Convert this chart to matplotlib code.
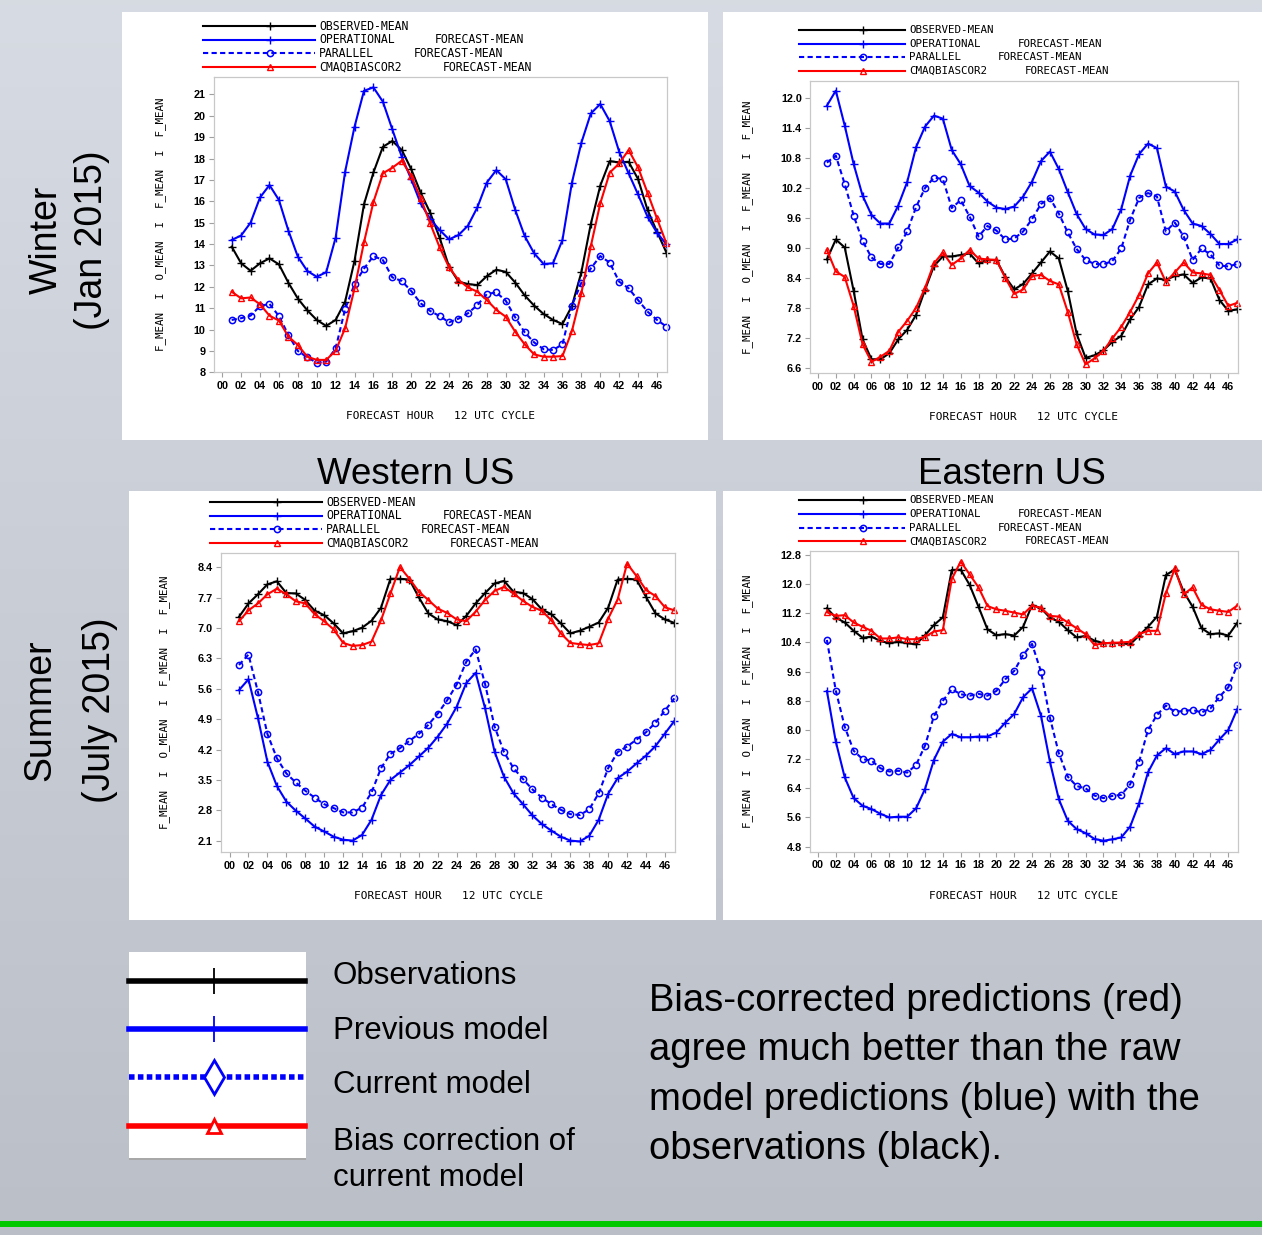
import numpy as np
import matplotlib.pyplot as plt
from matplotlib.lines import Line2D
from matplotlib.patches import Rectangle

# forecast hours 01..47
hours = np.arange(1, 48)
xtick_pos = np.arange(0, 47, 2)
xtick_labels = ['%02d' % h for h in xtick_pos]

# ---- Winter (Jan 2015), Western US
ww_obs = [13.88, 13.1, 12.75, 13.1, 13.33, 13.05, 12.19, 11.45, 10.9, 10.45, 10.17, 10.45, 11.3, 13.22,
          15.86, 17.35, 18.55, 18.82, 18.4, 17.5, 16.4, 15.47, 14.3, 12.94, 12.24, 12.13, 12.08, 12.5,
          12.8, 12.7, 12.2, 11.6, 11.12, 10.73, 10.45, 10.26, 11.1, 12.68, 14.94, 16.73, 17.88, 17.82,
          17.85, 17.04, 15.6, 14.58, 13.6]
ww_oper = [14.19, 14.4, 15.0, 16.18, 16.76, 16.06, 14.63, 13.41, 12.74, 12.47, 12.68, 14.3, 17.38, 19.49,
           21.17, 21.33, 20.66, 19.36, 18.08, 17.03, 15.9, 15.17, 14.66, 14.22, 14.42, 14.86, 15.72, 16.88,
           17.46, 17.03, 15.6, 14.38, 13.57, 13.07, 13.1, 14.19, 16.87, 18.74, 20.11, 20.55, 19.75, 18.32,
           17.31, 16.32, 15.28, 14.53, 13.99]
ww_par = [10.45, 10.53, 10.65, 11.1, 11.2, 10.63, 9.75, 9.0, 8.7, 8.45, 8.5, 9.12, 10.95, 12.13,
          12.85, 13.44, 13.25, 12.44, 12.27, 11.8, 11.23, 10.87, 10.63, 10.34, 10.51, 10.76, 11.15, 11.66,
          11.74, 11.35, 10.57, 9.87, 9.4, 9.08, 9.04, 9.31, 11.12, 12.19, 12.86, 13.44, 13.13, 12.24,
          11.93, 11.38, 10.84, 10.45, 10.14]
ww_bias = [11.77, 11.46, 11.5, 11.18, 10.65, 10.42, 9.67, 9.28, 8.73, 8.58, 8.58, 9.01, 10.06, 11.93,
           14.08, 15.97, 17.31, 17.57, 17.9, 17.18, 16.14, 14.97, 13.85, 12.91, 12.32, 11.97, 11.77, 11.38,
           10.92, 10.6, 9.9, 9.31, 8.84, 8.73, 8.73, 8.76, 9.93, 11.7, 13.9, 15.9, 17.34, 17.77,
           18.4, 17.59, 16.4, 15.2, 14.03]
ww_yticks = [8, 9, 10, 11, 12, 13, 14, 15, 16, 17, 18, 19, 20, 21]

# ---- Winter (Jan 2015), Eastern US
we_obs = [8.77, 9.17, 9.01, 8.14, 7.17, 6.77, 6.77, 6.89, 7.17, 7.36, 7.66, 8.16, 8.64, 8.83,
          8.83, 8.86, 8.89, 8.69, 8.76, 8.76, 8.42, 8.17, 8.28, 8.49, 8.71, 8.93, 8.79, 8.14,
          7.28, 6.8, 6.85, 6.95, 7.12, 7.24, 7.57, 7.82, 8.27, 8.39, 8.36, 8.44, 8.47, 8.3,
          8.41, 8.39, 7.96, 7.74, 7.77]
we_oper = [11.85, 12.15, 11.45, 10.68, 10.05, 9.66, 9.49, 9.49, 9.85, 10.32, 11.02, 11.43, 11.65, 11.59,
           10.96, 10.68, 10.24, 10.11, 9.93, 9.81, 9.78, 9.83, 10.03, 10.33, 10.74, 10.93, 10.58, 10.12,
           9.68, 9.38, 9.27, 9.26, 9.38, 9.78, 10.45, 10.88, 11.09, 11.0, 10.23, 10.13, 9.76, 9.49,
           9.44, 9.28, 9.08, 9.08, 9.17]
we_par = [10.71, 10.85, 10.28, 9.65, 9.14, 8.81, 8.68, 8.68, 9.01, 9.33, 9.82, 10.2, 10.41, 10.38,
          9.8, 9.96, 9.63, 9.23, 9.44, 9.35, 9.17, 9.19, 9.33, 9.58, 9.88, 10.0, 9.69, 9.31,
          8.98, 8.76, 8.68, 8.67, 8.74, 8.99, 9.57, 10.0, 10.1, 10.03, 9.33, 9.51, 9.23, 8.76,
          8.99, 8.87, 8.65, 8.63, 8.68]
we_bias = [8.96, 8.53, 8.42, 7.84, 7.07, 6.72, 6.82, 6.94, 7.32, 7.54, 7.8, 8.2, 8.69, 8.91,
           8.66, 8.79, 8.96, 8.79, 8.77, 8.76, 8.4, 8.08, 8.17, 8.44, 8.46, 8.34, 8.27, 7.72,
           7.07, 6.67, 6.79, 6.94, 7.19, 7.42, 7.72, 8.06, 8.49, 8.71, 8.32, 8.51, 8.71, 8.51,
           8.49, 8.46, 8.16, 7.84, 7.9]
we_yticks = [6.6, 7.2, 7.8, 8.4, 9.0, 9.6, 10.2, 10.8, 11.4, 12.0]

# ---- Summer (July 2015), Western US
sw_obs = [7.26, 7.57, 7.78, 8.01, 8.08, 7.81, 7.8, 7.65, 7.4, 7.3, 7.11, 6.88, 6.93, 7.01,
          7.17, 7.47, 8.14, 8.14, 8.12, 7.71, 7.34, 7.2, 7.16, 7.07, 7.28, 7.57, 7.81, 8.03,
          8.09, 7.84, 7.81, 7.67, 7.43, 7.32, 7.11, 6.88, 6.94, 7.03, 7.13, 7.47, 8.12, 8.14,
          8.12, 7.72, 7.34, 7.2, 7.12]
sw_oper = [5.57, 5.82, 4.93, 3.92, 3.36, 3.0, 2.79, 2.61, 2.42, 2.31, 2.19, 2.12, 2.1, 2.23,
           2.58, 3.15, 3.5, 3.67, 3.84, 4.04, 4.24, 4.5, 4.8, 5.19, 5.73, 5.97, 5.15, 4.15,
           3.57, 3.19, 2.94, 2.68, 2.48, 2.33, 2.19, 2.1, 2.08, 2.21, 2.58, 3.18, 3.54, 3.69,
           3.88, 4.06, 4.28, 4.57, 4.86]
sw_par = [6.15, 6.39, 5.53, 4.56, 4.0, 3.65, 3.44, 3.25, 3.09, 2.94, 2.85, 2.75, 2.75, 2.86,
          3.21, 3.77, 4.1, 4.23, 4.4, 4.56, 4.77, 5.03, 5.34, 5.7, 6.22, 6.51, 5.71, 4.73,
          4.14, 3.77, 3.52, 3.28, 3.09, 2.94, 2.81, 2.71, 2.69, 2.82, 3.19, 3.77, 4.14, 4.27,
          4.43, 4.6, 4.82, 5.1, 5.38]
sw_bias = [7.16, 7.41, 7.57, 7.78, 7.91, 7.78, 7.62, 7.57, 7.32, 7.16, 6.97, 6.66, 6.59, 6.61,
           6.69, 7.18, 7.8, 8.41, 8.14, 7.84, 7.65, 7.45, 7.35, 7.2, 7.16, 7.38, 7.65, 7.86,
           7.95, 7.8, 7.63, 7.49, 7.4, 7.18, 6.88, 6.66, 6.63, 6.61, 6.65, 7.22, 7.66, 8.49,
           8.2, 7.88, 7.74, 7.48, 7.41]
sw_yticks = [2.1, 2.8, 3.5, 4.2, 4.9, 5.6, 6.3, 7.0, 7.7, 8.4]

# ---- Summer (July 2015), Eastern US
se_obs = [11.34, 11.08, 10.95, 10.72, 10.53, 10.56, 10.44, 10.38, 10.42, 10.38, 10.35, 10.6, 10.88, 11.09,
          12.39, 12.4, 11.98, 11.38, 10.76, 10.6, 10.63, 10.59, 10.83, 11.43, 11.34, 11.08, 10.97, 10.74,
          10.54, 10.58, 10.45, 10.38, 10.39, 10.38, 10.35, 10.59, 10.83, 11.11, 12.25, 12.4, 11.79, 11.38,
          10.79, 10.63, 10.65, 10.59, 10.94]
se_oper = [9.07, 7.68, 6.7, 6.13, 5.92, 5.83, 5.7, 5.6, 5.62, 5.62, 5.85, 6.38, 7.18, 7.68,
           7.89, 7.8, 7.8, 7.82, 7.82, 7.93, 8.2, 8.44, 8.9, 9.14, 8.39, 7.13, 6.1, 5.51,
           5.28, 5.17, 5.01, 4.96, 5.0, 5.05, 5.35, 5.99, 6.84, 7.3, 7.5, 7.34, 7.41, 7.41,
           7.34, 7.45, 7.74, 8.0, 8.57]
se_par = [10.47, 9.08, 8.09, 7.43, 7.2, 7.16, 6.95, 6.86, 6.88, 6.83, 7.04, 7.57, 8.38, 8.8,
          9.12, 8.98, 8.94, 8.99, 8.94, 9.07, 9.39, 9.62, 10.06, 10.36, 9.6, 8.34, 7.36, 6.72,
          6.46, 6.4, 6.2, 6.13, 6.19, 6.22, 6.51, 7.13, 8.0, 8.41, 8.67, 8.5, 8.52, 8.55,
          8.48, 8.59, 8.91, 9.17, 9.78]
se_bias = [11.23, 11.13, 11.15, 10.95, 10.83, 10.72, 10.51, 10.51, 10.54, 10.49, 10.49, 10.56, 10.7, 10.74,
           12.14, 12.62, 12.27, 11.91, 11.4, 11.31, 11.27, 11.22, 11.17, 11.41, 11.35, 11.13, 11.11, 10.95,
           10.79, 10.63, 10.33, 10.38, 10.39, 10.4, 10.42, 10.63, 10.72, 10.72, 11.75, 12.43, 11.72, 11.91,
           11.43, 11.31, 11.27, 11.24, 11.41]
se_yticks = [4.8, 5.6, 6.4, 7.2, 8.0, 8.8, 9.6, 10.4, 11.2, 12.0, 12.8]

legend_names = ['OBSERVED-MEAN', 'OPERATIONAL', 'PARALLEL', 'CMAQBIASCOR2']
key_labels = ['Observations', 'Previous model', 'Current model', 'Bias correction of\ncurrent model']
note = ('Bias-corrected predictions (red)\nagree much better than the raw\n'
        'model predictions (blue) with the\nobservations (black).')

W, H = 1262, 1235
fig = plt.figure(figsize=(W / 100, H / 100), dpi=100)


def fx(x):
    return x / W


def fy(y):
    return 1 - y / H


# slide background gradient
bg = fig.add_axes([0, 0, 1, 1], zorder=-10)
grad = np.linspace(0, 1, 256).reshape(-1, 1)
top = np.array([0.843, 0.859, 0.890])
bot = np.array([0.733, 0.749, 0.784])
img = top[None, None, :] * (1 - grad[:, :, None]) + bot[None, None, :] * grad[:, :, None]
bg.imshow(img, aspect='auto', extent=[0, 1, 0, 1])
bg.set_xlim(0, 1)
bg.set_ylim(0, 1)
bg.axis('off')

mono = 'DejaVu Sans Mono'
styles = [
    dict(color='black', marker='+', ms=6, mew=1.0, ls='-'),
    dict(color='#0000ff', marker='+', ms=6, mew=1.0, ls='-'),
    dict(color='#0000ff', marker='o', ms=4.5, mew=1.1, mfc='none', ls=(0, (2.5, 1.6))),
    dict(color='#ff0000', marker='^', ms=4.5, mew=1.0, mfc='none', ls='-'),
]


def draw_panel(box, rect, k, series, yticks, ylim, fmt):
    x0, y0, x1, y1 = box
    fig.add_artist(Rectangle((fx(x0), fy(y1)), (x1 - x0) / W, (y1 - y0) / H,
                             transform=fig.transFigure, facecolor='white', edgecolor='none', zorder=0))
    left, top_, right, bottom = rect
    ax = fig.add_axes([fx(left), fy(bottom), (right - left) / W, (bottom - top_) / H])
    for vals, st in zip(series, styles):
        ax.plot(hours, vals, lw=1.5, clip_on=False, **st)
    ax.set_xlim(-0.87, 47.03)
    ax.set_ylim(*ylim)
    ax.set_xticks(xtick_pos)
    ax.set_xticklabels(xtick_labels)
    ax.set_yticks(yticks)
    ax.set_yticklabels([fmt % v for v in yticks])
    ax.tick_params(length=3.5, width=0.8, color='#a0a0a0', pad=2.5)
    for lab in ax.get_xticklabels() + ax.get_yticklabels():
        lab.set_fontfamily('Liberation Sans')
        lab.set_fontsize(7.8)
        lab.set_fontweight('bold')
    for s in ax.spines.values():
        s.set_color('#c8c8c8')
        s.set_linewidth(0.9)
    ax.set_xlabel('FORECAST HOUR   12 UTC CYCLE', family=mono, fontsize=8, labelpad=15)
    ax.set_ylabel('F_MEAN  I  O_MEAN  I  F_MEAN  I  F_MEAN', family=mono, fontsize=7.8, labelpad=20)

    # SAS style legend above the plot
    fc_off = [None, 221, 199.5, 228.4]
    for i, (name, st) in enumerate(zip(legend_names, styles)):
        yy = top_ - 50.7 + 13.7 * i
        fig.add_artist(Line2D([fx(left - 11), fx(left + 101 * k)], [fy(yy), fy(yy)],
                              transform=fig.transFigure, lw=1.5, color=st['color'], ls=st['ls']))
        fig.add_artist(Line2D([fx(left + 56 * k)], [fy(yy)], transform=fig.transFigure, ls='none',
                              marker=st['marker'], ms=st['ms'], mew=st['mew'], color=st['color'],
                              mfc=st.get('mfc', st['color'])))
        fig.text(fx(left + 105 * k), fy(yy), name, family=mono, fontsize=8.3 * k, va='center', ha='left')
        if fc_off[i] is not None:
            fig.text(fx(left + fc_off[i] * k), fy(yy), 'FORECAST-MEAN', family=mono, fontsize=8.3 * k,
                     va='center', ha='left')
    return ax


draw_panel((122, 12, 708, 440), (214, 76.7, 666.7, 372.3), 1.0,
           [ww_obs, ww_oper, ww_par, ww_bias], ww_yticks, (8, 21.83), '%d')
draw_panel((723, 12, 1262, 440), (810.2, 80.7, 1237.5, 373.3), 0.94,
           [we_obs, we_oper, we_par, we_bias], we_yticks, (6.49, 12.35), '%.1f')
draw_panel((129, 491, 716, 920), (221.3, 552.7, 674.7, 852.3), 1.0,
           [sw_obs, sw_oper, sw_par, sw_bias], sw_yticks, (1.83, 8.74), '%.1f')
draw_panel((723, 491, 1262, 920), (810.2, 551, 1237.5, 851.7), 0.94,
           [se_obs, se_oper, se_par, se_bias], se_yticks, (4.66, 12.91), '%.1f')

big = 'Liberation Sans'
fig.text(fx(416), fy(474), 'Western US', family=big, fontsize=26.5, ha='center', va='center')
fig.text(fx(1012), fy(474), 'Eastern US', family=big, fontsize=26.5, ha='center', va='center')
fig.text(fx(47), fy(240), 'Winter', family=big, fontsize=27, rotation=90, ha='center', va='center')
fig.text(fx(92), fy(240), '(Jan 2015)', family=big, fontsize=27, rotation=90, ha='center', va='center')
fig.text(fx(40), fy(710), 'Summer', family=big, fontsize=27, rotation=90, ha='center', va='center')
fig.text(fx(100), fy(710), '(July 2015)', family=big, fontsize=27, rotation=90, ha='center', va='center')

# key box at the bottom
fig.add_artist(Rectangle((fx(129), fy(1160)), (306 - 129) / W, 3 / H, transform=fig.transFigure,
                         facecolor='#a8a8a8', edgecolor='none', zorder=0.5))
fig.add_artist(Rectangle((fx(129), fy(1158)), (306 - 129) / W, (1158 - 952) / H,
                         transform=fig.transFigure, facecolor='white', edgecolor='none', zorder=1))
key_y = [981, 1029, 1077, 1126]
key_marker = [
    dict(marker='|', ms=19, mew=1.3, mfc='black'),
    dict(marker='|', ms=19, mew=1.3, mfc='#0000ff'),
    dict(marker='d', ms=17, mew=2.0, mfc='white'),
    dict(marker='^', ms=10, mew=2.0, mfc='white'),
]
for yy, st, mk in zip(key_y, styles, key_marker):
    ls = (0, (1.0, 0.6)) if st['ls'] != '-' else '-'
    fig.add_artist(Line2D([fx(129), fx(305)], [fy(yy), fy(yy)], transform=fig.transFigure,
                          lw=4, color=st['color'], ls=ls, zorder=2))
    fig.add_artist(Line2D([fx(214)], [fy(yy)], transform=fig.transFigure, ls='none',
                          color=st['color'], zorder=3, **mk))
label_y = [976, 1031, 1085, 1160]
for yy, lab in zip(label_y, key_labels):
    fig.text(fx(333), fy(yy), lab, family=big, fontsize=22.5, ha='left', va='center', linespacing=1.25)

fig.text(fx(649), fy(1075), note, family=big, fontsize=27.5, ha='left', va='center', linespacing=1.47)

# green rule at the bottom of the slide
fig.add_artist(Line2D([0, 1], [fy(1223.5), fy(1223.5)], transform=fig.transFigure,
                      color='#00c800', lw=4.3))

fig.savefig('out.png', dpi=100)
